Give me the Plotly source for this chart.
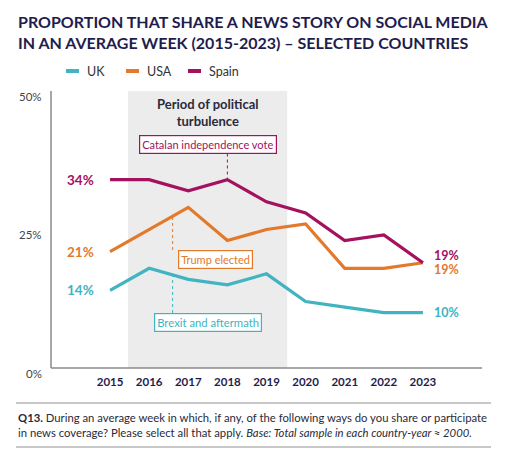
import plotly.graph_objects as go

years = [2015, 2016, 2017, 2018, 2019, 2020, 2021, 2022, 2023]
uk = [14, 18, 16, 15, 17, 12, 11, 10, 10]
usa = [21, 25, 29, 23, 25, 26, 18, 18, 19]
spain = [34, 34, 32, 34, 30, 28, 23, 24, 19]
series_names = ["UK", "USA", "Spain"]
y_ticks = [0, 25, 50]
y_tick_labels = ["0%", "25%", "50%"]

COL = {"UK": "#41b3c1", "USA": "#e3792a", "Spain": "#a3115f"}
NAVY = "#1f1d4e"
FONT = "Lato"

W, H = 512, 469
L, R, T, B = 51, 30, 91, 101
PW, PH = W - L - R, H - T - B


def px(x):
    return (x - L) / PW


def py(y):
    return (H - B - y) / PH


fig = go.Figure()
data = {"UK": uk, "USA": usa, "Spain": spain}
for name in series_names:
    fig.add_trace(go.Scatter(x=years, y=data[name], mode="lines", name=name,
                             line=dict(color=COL[name], width=3.2),
                             showlegend=False))

shapes = []
ann = []

# title
ann.append(dict(text="<b>PROPORTION THAT SHARE A NEWS STORY ON SOCIAL MEDIA<br>IN AN AVERAGE WEEK (2015-2023) – SELECTED COUNTRIES</b>",
                xref="paper", yref="paper", x=px(16), y=py(32), xanchor="left", yanchor="middle",
                align="left", showarrow=False, font=dict(family=FONT, size=16, color=NAVY)))

# shaded period
shapes.append(dict(type="rect", xref="x", yref="y", x0=2015.46, x1=2019.53, y0=0, y1=50,
                   fillcolor="#ececec", line=dict(width=0), layer="below"))
ann.append(dict(text="<b>Period of political<br>turbulence</b>", xref="x", yref="paper",
                x=2017.5, y=py(112.5), xanchor="center", yanchor="middle", showarrow=False,
                font=dict(family=FONT, size=13, color="#2a2a3a"), align="center"))

# axes lines
shapes.append(dict(type="line", xref="paper", yref="paper", x0=0, x1=0, y0=0, y1=1,
                   line=dict(color="#8a8a8a", width=1.5)))
shapes.append(dict(type="line", xref="paper", yref="paper", x0=0, x1=1, y0=0, y1=0,
                   line=dict(color="#8a8a8a", width=1.5)))

# y tick labels
for v, lab in zip(y_ticks, y_tick_labels):
    ann.append(dict(text=lab, xref="paper", yref="y", x=px(44), y=v, yshift=-5,
                    xanchor="right", yanchor="middle", showarrow=False,
                    font=dict(family=FONT, size=11.5, color="#444")))

# legend (custom)
leg_x = [66, 126, 188]
for name, lx in zip(series_names, leg_x):
    shapes.append(dict(type="line", xref="paper", yref="paper", x0=px(lx), x1=px(lx + 13),
                       y0=py(71), y1=py(71), line=dict(color=COL[name], width=4)))
    ann.append(dict(text=name, xref="paper", yref="paper", x=px(lx + 19), y=py(71),
                    xanchor="left", yanchor="middle", showarrow=False,
                    font=dict(family=FONT, size=12.5, color="#333")))

# end labels
for name in series_names:
    vals = data[name]
    ann.append(dict(text=f"<b>{vals[0]}%</b>", xref="x", yref="y", x=years[0], y=vals[0],
                    xshift=-14, xanchor="right", yanchor="middle", showarrow=False,
                    font=dict(family=FONT, size=13.5, color=COL[name])))
end_shift = {"UK": 0, "USA": -6.5, "Spain": 7.5}
for name in series_names:
    vals = data[name]
    ann.append(dict(text=f"<b>{vals[-1]}%</b>", xref="x", yref="y", x=years[-1], y=vals[-1],
                    xshift=9, yshift=end_shift[name], xanchor="left", yanchor="middle",
                    showarrow=False, font=dict(family=FONT, size=12.5, color=COL[name])))

# event boxes
events = [
    ("Catalan independence vote", "Spain", 2018, spain[3], 208, 144.5, 11),
    ("Trump elected", "USA", 2016.6, 25 + 0.6 * 4, 215, 259, 11),
    ("Brexit and aftermath", "UK", 2016.6, 18 - 0.6 * 2, 208, 322, 11.3),
]
for text, name, xv, yv, cx, cy, fs in events:
    ann.append(dict(text=text, xref="paper", yref="paper", x=px(cx), y=py(cy),
                    xanchor="center", yanchor="middle",
                    showarrow=False, bgcolor="white", bordercolor=COL[name], borderwidth=1.2,
                    borderpad=2, font=dict(family=FONT, size=fs, color=COL[name])))
    if name == "Spain":
        y0 = py(cy + 9)
    else:
        y0 = py(cy - 9)
    shapes.append(dict(type="line", xref="x", yref="paper", x0=xv, x1=xv,
                       y0=y0, y1=yv / 50, line=dict(color=COL[name], width=1, dash="dot")))

# footer
for yy in [403, 447]:
    shapes.append(dict(type="line", xref="paper", yref="paper", x0=px(16), x1=px(491),
                       y0=py(yy), y1=py(yy), line=dict(color="#c8c8c8", width=2)))
ann.append(dict(text="<b>Q13.</b> During an average week in which, if any, of the following ways do you share or participate<br>"
                     "in news coverage? Please select all that apply. <i>Base: Total sample in each country-year ≈ 2000.</i>",
                xref="paper", yref="paper", x=px(16), y=py(425), xanchor="left", yanchor="middle",
                align="left", showarrow=False, font=dict(family=FONT, size=11.3, color="#2a2a3a")))

fig.update_layout(
    width=W, height=H, margin=dict(l=L, r=R, t=T, b=B),
    paper_bgcolor="white", plot_bgcolor="white",
    xaxis=dict(range=[2013.49, 2024.51], tickvals=years, ticktext=[f"<b>{y}</b>" for y in years],
               showgrid=False, zeroline=False, showline=False, ticks="", ticklabelstandoff=5,
               tickfont=dict(family=FONT, size=11.5, color=NAVY)),
    yaxis=dict(range=[0, 50], showgrid=False, zeroline=False, showline=False, showticklabels=False, ticks=""),
    shapes=shapes, annotations=ann, showlegend=False,
)
fig.write_html("out.html", config={"displayModeBar": False},
               post_script="document.body.style.margin='0';document.body.style.overflow='hidden';")
